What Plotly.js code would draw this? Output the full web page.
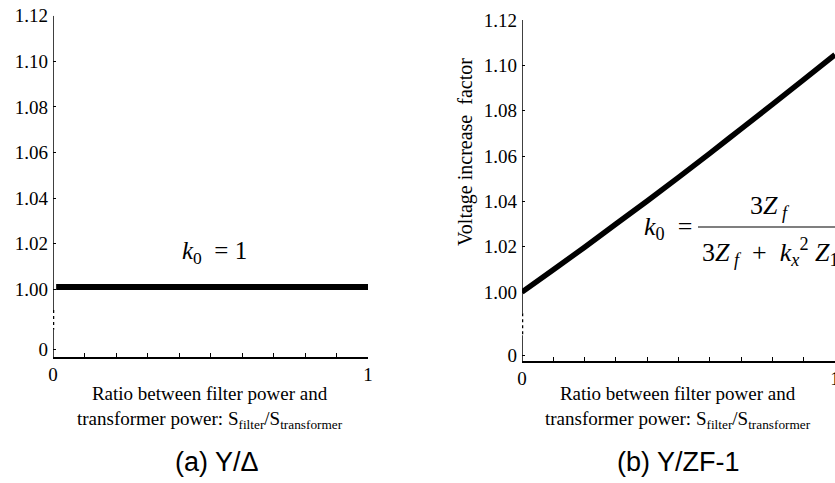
<!DOCTYPE html>
<html>
<head>
<meta charset="utf-8">
<script src="https://cdn.plot.ly/plotly-3.0.1.min.js"></script>
<style>
html,body{margin:0;padding:0;overflow:hidden;background:#fff;}
#chart{width:850px;height:483px;}
</style>
</head>
<body>
<div id="chart"></div>
<script>
// ---- data ----
var ratioA = [0.01, 0.25, 0.5, 0.75, 1.0];
var factorA = [1.001, 1.001, 1.001, 1.001, 1.001];

var ratioB = [0, 0.1, 0.2, 0.3, 0.4, 0.5, 0.6, 0.7, 0.8, 0.9, 1.0];
var factorB = [1.000, 1.0098, 1.0198, 1.0300, 1.0402, 1.0506, 1.0612, 1.0720, 1.0828, 1.0937, 1.1047];

var yTickVals = [1.00, 1.02, 1.04, 1.06, 1.08, 1.10, 1.12];
var yTickText = ['1.00', '1.02', '1.04', '1.06', '1.08', '1.10', '1.12'];
var xTickVals = [0, 0.1, 0.2, 0.3, 0.4, 0.5, 0.6, 0.7, 0.8, 0.9, 1.0];
var xTickText = ['0', '', '', '', '', '', '', '', '', '', '1'];

var W = 850, H = 483;
var serif = 'Liberation Serif, Times New Roman, serif';
var sans = 'Liberation Sans, Arial, sans-serif';
var NB = '\u00A0';
function px(x){return x / W;}
function py(y){return 1 - y / H;}

var traceA = {x: ratioA, y: factorA, xaxis: 'x', yaxis: 'y', mode: 'lines',
  line: {color: '#000', width: 6}, hoverinfo: 'skip', showlegend: false};
var traceB = {x: ratioB, y: factorB, xaxis: 'x2', yaxis: 'y2', mode: 'lines',
  line: {color: '#000', width: 5.5, shape: 'spline'}, hoverinfo: 'skip', showlegend: false};

function xAxis(dom, anchor){
  return {domain: dom, anchor: anchor, range: [0, 1], tickmode: 'array',
    tickvals: xTickVals, ticktext: xTickText, ticks: 'inside', ticklen: 4,
    tickwidth: 1, tickcolor: '#000', showline: true, linecolor: '#000', linewidth: 1.5,
    showgrid: false, zeroline: false, tickfont: {family: serif, size: 19, color: '#000'}, fixedrange: true};
}
function yAxis(dom, anchor, lo, zeroPos){
  return {domain: dom, anchor: anchor, range: [lo, 1.12], tickmode: 'array',
    tickvals: [zeroPos].concat(yTickVals), ticktext: ['0'].concat(yTickText),
    ticks: 'inside', ticklen: 3, tickwidth: 1, tickcolor: '#000', ticklabelstandoff: 4,
    showline: false, showgrid: false, zeroline: false,
    tickfont: {family: serif, size: 19, color: '#000'}, fixedrange: true};
}

var shapes = [
  // broken y-axis, panel (a)
  {type: 'line', xref: 'x', yref: 'y', x0: 0, x1: 0, y0: 1.12, y1: 0.9909, line: {color: '#000', width: 1.5}},
  {type: 'line', xref: 'x', yref: 'y', x0: 0, x1: 0, y0: 0.9909, y1: 0.9822, line: {color: '#000', width: 2.5, dash: 'dot'}},
  {type: 'line', xref: 'x', yref: 'y', x0: 0, x1: 0, y0: 0.9822, y1: 0.9703, line: {color: '#000', width: 1.5}},
  // broken y-axis, panel (b)
  {type: 'line', xref: 'x2', yref: 'y2', x0: 0, x1: 0, y0: 1.12, y1: 0.9907, line: {color: '#000', width: 1.5}},
  {type: 'line', xref: 'x2', yref: 'y2', x0: 0, x1: 0, y0: 0.9907, y1: 0.9810, line: {color: '#000', width: 2.5, dash: 'dot'}},
  {type: 'line', xref: 'x2', yref: 'y2', x0: 0, x1: 0, y0: 0.9810, y1: 0.9696, line: {color: '#000', width: 1.5}},
  // fraction bar
  {type: 'line', xref: 'paper', yref: 'paper', x0: px(698), x1: 1.0, y0: py(227), y1: py(227), line: {color: '#000', width: 1.2}}
];

var xTitle = 'Ratio between filter power and<br>transformer power: S<sub>filter</sub>/S<sub>transformer</sub>';
var annotations = [
  {text: xTitle, xref: 'paper', yref: 'paper', x: px(210), y: py(407), showarrow: false,
   font: {family: serif, size: 19, color: '#000'}, xanchor: 'center', yanchor: 'middle'},
  {text: xTitle, xref: 'paper', yref: 'paper', x: px(678), y: py(407), showarrow: false,
   font: {family: serif, size: 19, color: '#000'}, xanchor: 'center', yanchor: 'middle'},
  {text: '(a) Y/Δ', xref: 'paper', yref: 'paper', x: px(217), y: py(462), showarrow: false,
   font: {family: sans, size: 27, color: '#000'}, xanchor: 'center', yanchor: 'middle'},
  {text: '(b) Y/ZF-1', xref: 'paper', yref: 'paper', x: px(678), y: py(462), showarrow: false,
   font: {family: sans, size: 27, color: '#000'}, xanchor: 'center', yanchor: 'middle'},
  {text: 'Voltage increase  factor', xref: 'paper', yref: 'paper', x: px(465), y: py(152), showarrow: false,
   textangle: -90, font: {family: serif, size: 20, color: '#000'}, xanchor: 'center', yanchor: 'middle'},
  {text: '<i>k</i><sub>0</sub>' + NB + NB + '=' + NB + '1', xref: 'paper', yref: 'paper', x: px(214), y: py(252), showarrow: false,
   font: {family: serif, size: 25, color: '#000'}, xanchor: 'center', yanchor: 'middle'},
  {text: '<i>k</i><sub>0</sub>' + NB + NB + '=', xref: 'paper', yref: 'paper', x: px(694), y: py(228), showarrow: false,
   font: {family: serif, size: 26, color: '#000'}, xanchor: 'right', yanchor: 'middle'},
  {text: '3<i>Z</i><sub>' + NB + '<i>f</i></sub>', xref: 'paper', yref: 'paper', x: px(770), y: py(207), showarrow: false,
   font: {family: serif, size: 26, color: '#000'}, xanchor: 'center', yanchor: 'middle'},
  {text: '3<i>Z</i><sub>' + NB + '<i>f</i></sub>' + NB + NB + '+' + NB + NB + '<i>k</i><sub><i>x</i></sub><sup>2</sup>' + NB + '<i>Z</i><sub>12</sub>', xref: 'paper', yref: 'paper', x: px(700), y: py(252), showarrow: false,
   font: {family: serif, size: 26, color: '#000'}, xanchor: 'left', yanchor: 'middle'}
];

var layout = {
  width: W, height: H,
  margin: {l: 0, r: 0, t: 0, b: 0},
  paper_bgcolor: '#fff', plot_bgcolor: '#fff',
  showlegend: false,
  xaxis: xAxis([px(53), px(368)], 'y'),
  yaxis: yAxis([py(357), py(15.7)], 'x', 0.9703, 0.9738),
  xaxis2: xAxis([px(522), px(835)], 'y2'),
  yaxis2: yAxis([py(361), py(20)], 'x2', 0.9696, 0.9722),
  shapes: shapes,
  annotations: annotations
};

Plotly.newPlot('chart', [traceA, traceB], layout, {displayModeBar: false, staticPlot: true});
</script>
</body>
</html>
